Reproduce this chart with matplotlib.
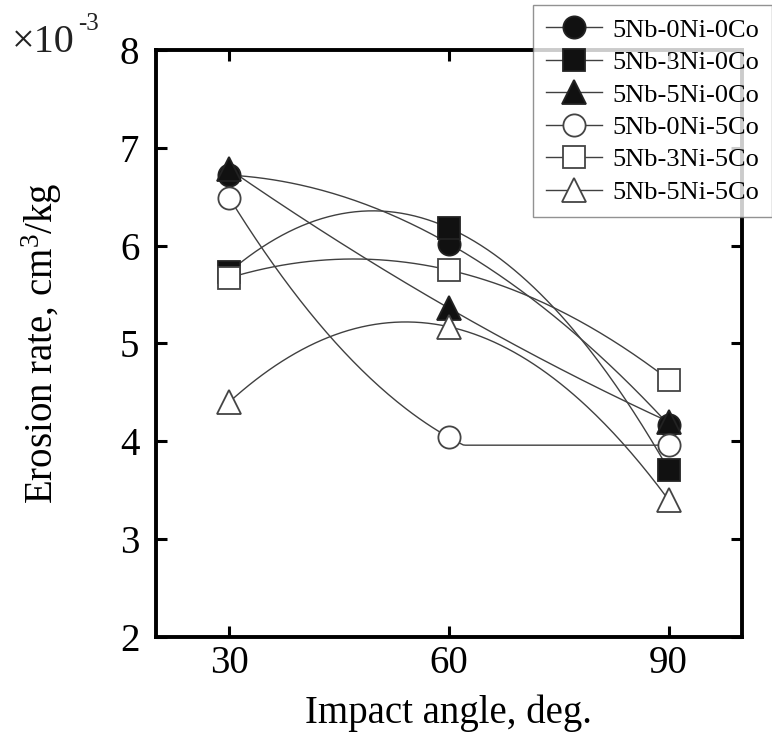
import numpy as np
import matplotlib
matplotlib.use("Agg")
import matplotlib.pyplot as plt

plt.rcParams["font.family"] = ["Liberation Serif", "DejaVu Serif"]
plt.rcParams["mathtext.fontset"] = "custom"
plt.rcParams["mathtext.rm"] = "Liberation Serif"
plt.rcParams["mathtext.it"] = "Liberation Serif:italic"

# impact angle (deg) and erosion rate (x1e-3 cm3/kg)
angles = [30, 60, 90]
nb5_ni0_co0 = [6.72, 6.02, 4.17]
nb5_ni3_co0 = [5.73, 6.18, 3.71]
nb5_ni5_co0 = [6.78, 5.36, 4.20]
nb5_ni0_co5 = [6.49, 4.04, 3.96]
nb5_ni3_co5 = [5.67, 5.75, 4.63]
nb5_ni5_co5 = [4.40, 5.17, 3.40]
labels = ["5Nb-0Ni-0Co", "5Nb-3Ni-0Co", "5Nb-5Ni-0Co",
          "5Nb-0Ni-5Co", "5Nb-3Ni-5Co", "5Nb-5Ni-5Co"]
xticks = [30, 60, 90]
yticks = [2, 3, 4, 5, 6, 7, 8]

series = [nb5_ni0_co0, nb5_ni3_co0, nb5_ni5_co0,
          nb5_ni0_co5, nb5_ni3_co5, nb5_ni5_co5]
markers = ["o", "s", "^", "o", "s", "^"]
filled = [True, True, True, False, False, False]
msizes = [16, 15.5, 17, 16, 15.5, 17]

fig = plt.figure(figsize=(7.72, 7.33), dpi=100)
ax = fig.add_axes([0.202, 0.131, 0.759, 0.801])

line_col = "#404040"
xs = np.linspace(angles[0], angles[-1], 200)
handles = []
for y, m, f, ms, lab in zip(series, markers, filled, msizes, labels):
    # smooth connecting curve (quadratic through the three points)
    coef = np.polyfit(angles, y, 2)
    ys = np.maximum(np.polyval(coef, xs), min(y))
    ax.plot(xs, ys, color=line_col, lw=1.0, zorder=2)
    face = "#111111" if f else "white"
    edge = "#222222" if f else "#444444"
    ax.plot(angles, y, linestyle="none", marker=m, ms=ms,
            mfc=face, mec=edge, mew=1.3, zorder=3)
    h, = ax.plot([], [], color=line_col, lw=1.0, marker=m, ms=ms,
                 mfc=face, mec=edge, mew=1.3, label=lab)
    handles.append(h)

ax.set_xlim(20, 100)
ax.set_ylim(2, 8)
ax.set_xticks(xticks)
ax.set_yticks(yticks)
ax.tick_params(direction="in", length=8, width=2.2, labelsize=28,
               top=True, right=True)
ax.tick_params(axis="x", pad=6)
ax.tick_params(axis="y", pad=12)
for sp in ax.spines.values():
    sp.set_linewidth(2.8)

ax.set_xlabel("Impact angle, deg.", fontsize=28, labelpad=9)
ax.set_ylabel("Erosion rate, cm$^3$/kg", fontsize=28, labelpad=40)

# axis multiplier in the top-left corner
fig.text(12 / 772, 1 - 52 / 733, "\u00d710", fontsize=29,
         ha="left", va="baseline", color="#222222")
fig.text(78 / 772, 1 - 30 / 733, "-3", fontsize=18,
         ha="left", va="baseline", color="#222222")

leg = fig.legend(handles=handles, loc="upper left",
                 bbox_to_anchor=(533 / 772, 1 - 5 / 733),
                 fontsize=19, handlelength=2.1, handletextpad=0.4,
                 labelspacing=0.34, borderpad=0.5, borderaxespad=0,
                 frameon=True, fancybox=False)
leg.get_frame().set_edgecolor("#777777")
leg.get_frame().set_linewidth(1.0)

fig.savefig("out.png", dpi=100)
